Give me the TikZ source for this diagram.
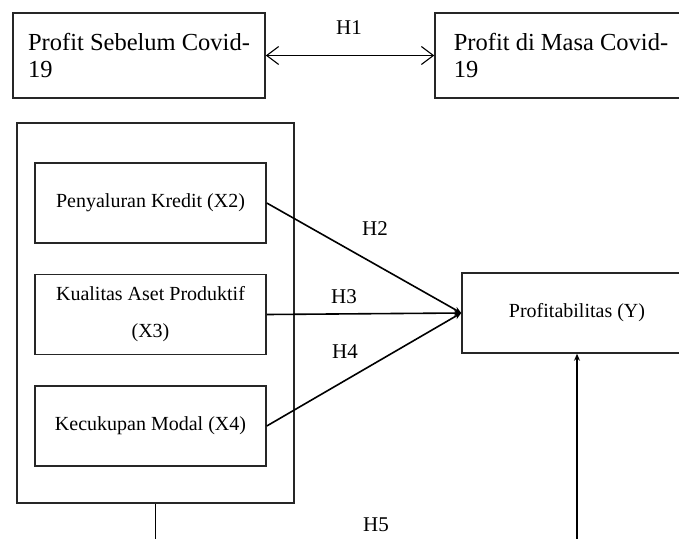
\documentclass[tikz,border=0pt]{standalone}
\usepackage{fontspec}
\setmainfont{Liberation Serif}
\usetikzlibrary{arrows.meta}
\usetikzlibrary{positioning}
\tikzstyle{box} = [draw=black!85, line width=1.5pt, minimum height=80pt, inner sep=0pt, font=\fontsize{20}{24}\selectfont]
\tikzstyle{topbox} = [box, minimum width=252pt, minimum height=85pt, align=left, font=\fontsize{24.5}{27}\selectfont]
\tikzstyle{arrow} = [line width=1.6pt, -{Stealth[length=7pt,width=6pt]}]
\tikzstyle{hyp} = [font=\fontsize{21}{24}\selectfont]

\begin{document}
\begin{tikzpicture}[x=1pt,y=-1pt]
\useasboundingbox (0,0) rectangle (679,538);
\node[topbox] (pre) at (139,55.5) {Profit Sebelum Covid-\\19};
\node[topbox] (post) at (561,55.5) {Profit di Masa Covid-\\19};
\node[box, minimum width=277pt, minimum height=380pt] (grp) at (155.5,313) {};
\node[box, minimum width=231pt] (x2) at (150.5,203) {Penyaluran Kredit (X2)};
\node[box, minimum width=231pt, below=30pt of x2, align=center, font=\fontsize{20}{37}\selectfont] (x3) {Kualitas Aset Produktif\\(X3)};
\node[box, minimum width=231pt, below=30pt of x3] (x4) {Kecukupan Modal (X4)};
\node[box, minimum width=230pt] (y) at (577,313) {Profitabilitas (Y)};
\node[hyp] (h1) at (349,28) {H1};
\node[hyp] (h2) at (375,229) {H2};
\node[hyp] (h3) at (344,297) {H3};
\node[hyp] (h4) at (345,352) {H4};
\node[hyp] (h5) at (376,525) {H5};
\coordinate (c1) at (155.5,545);
\coordinate (c2) at (577,545);
\draw[line width=1.1pt, {Straight Barb[length=12pt,width=18pt]}-{Straight Barb[length=12pt,width=18pt]}] (pre.east) -- (post.west);
\draw[arrow] (x2.east) -- (y.west);
\draw[arrow] (x3.east) -- (y.west);
\draw[arrow] (x4.east) -- (y.west);
\draw[line width=1.6pt] (grp.south) -- (c1);
\draw[arrow] (c2) -- (y.south);
\end{tikzpicture}
\end{document}
